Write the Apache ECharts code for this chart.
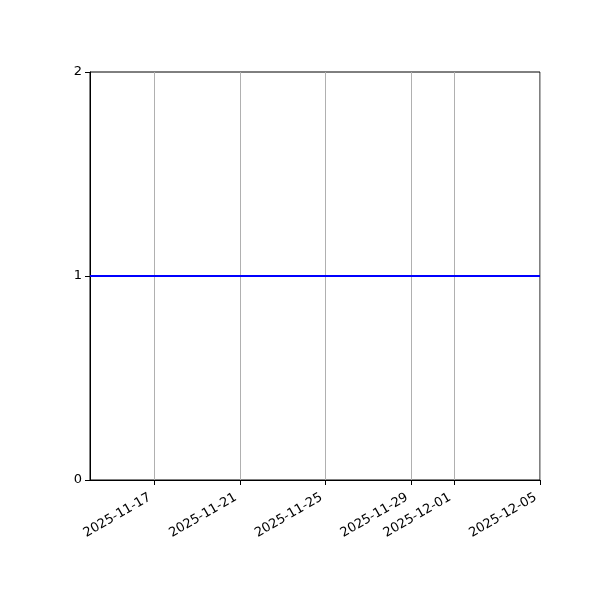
<!DOCTYPE html>
<html>
<head>
<meta charset="utf-8">
<script src="https://cdn.jsdelivr.net/npm/echarts@6/dist/echarts.min.js"></script>
<style>html,body{margin:0;padding:0;background:#fff}#c{width:600px;height:600px}</style>
</head>
<body>
<div id="c"></div>
<script>
var dates = ['2025-11-14','2025-11-15','2025-11-16','2025-11-17','2025-11-18','2025-11-19','2025-11-20','2025-11-21','2025-11-22','2025-11-23','2025-11-24','2025-11-25','2025-11-26','2025-11-27','2025-11-28','2025-11-29','2025-11-30','2025-12-01','2025-12-02','2025-12-03','2025-12-04','2025-12-05'];
var values = [1,1,1,1,1,1,1,1,1,1,1,1,1,1,1,1,1,1,1,1,1,1];
var xTickLabels = ['2025-11-17','2025-11-21','2025-11-25','2025-11-29','2025-12-01','2025-12-05'];
var yTicks = [0,1,2];

function ts(s){var p=s.split('-');return Date.UTC(+p[0],+p[1]-1,+p[2]);}
function pad(n){return n<10?'0'+n:''+n;}
function fmt(v){var d=new Date(v);return d.getUTCFullYear()+'-'+pad(d.getUTCMonth()+1)+'-'+pad(d.getUTCDate());}

var xTicks = xTickLabels.map(ts);
var chart = echarts.init(document.getElementById('c'));
chart.setOption({
  animation:false,
  grid:{left:90,right:60,top:72,bottom:120,show:true,borderColor:'#000',borderWidth:1,backgroundColor:'transparent'},
  xAxis:{
    type:'value',
    min:ts(dates[0]),max:ts(dates[dates.length-1]),
    axisLine:{show:true,lineStyle:{color:'#000',width:1}},
    axisTick:{show:true,inside:false,length:5,lineStyle:{color:'#000'},customValues:xTicks},
    axisLabel:{rotate:30,color:'#000',fontFamily:'DejaVu Sans',fontSize:13,margin:14,padding:[0,5,0,0],customValues:xTicks,formatter:function(v){return fmt(v);},hideOverlap:false,showMinLabel:true,showMaxLabel:true},
    splitLine:{show:true,lineStyle:{color:'#b0b0b0',width:1}}
  },
  yAxis:{
    type:'value',min:yTicks[0],max:yTicks[yTicks.length-1],interval:1,
    axisLine:{show:true,lineStyle:{color:'#000',width:1}},
    axisTick:{show:true,inside:false,length:5,lineStyle:{color:'#000'}},
    axisLabel:{color:'#000',fontFamily:'DejaVu Sans',fontSize:13,margin:8},
    splitLine:{show:false}
  },
  series:[{
    type:'line',
    data:dates.map(function(d,i){return [ts(d),values[i]];}),
    showSymbol:false,
    lineStyle:{color:'#0000ff',width:2},
    itemStyle:{color:'#0000ff'}
  }]
});
</script>
</body>
</html>
